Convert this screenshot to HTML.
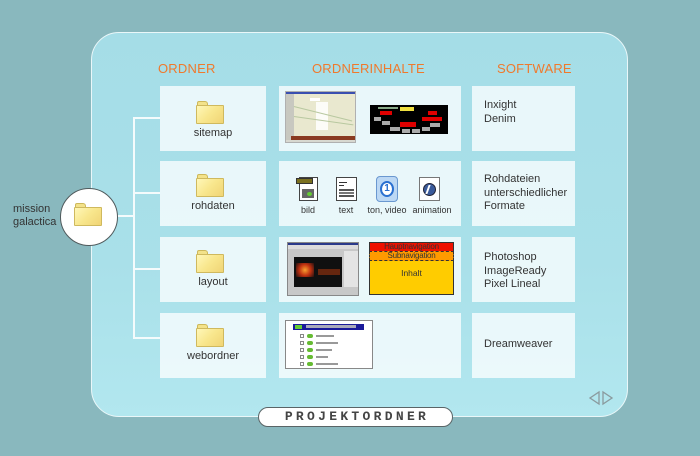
<!DOCTYPE html>
<html><head><meta charset="utf-8">
<style>
*{margin:0;padding:0;box-sizing:border-box}
body{width:700px;height:456px;overflow:hidden;background:#89b8be;font-family:"Liberation Sans",Arial,sans-serif;position:relative}
.a{position:absolute}
.panel{left:91px;top:32px;width:537px;height:385px;border-radius:28px;border:1.5px solid #eaf7f9;background:linear-gradient(180deg,#a5dde7 0%,#a9e0e9 60%,#b2e7ef 100%)}
.box{position:absolute;background:rgba(248,253,254,0.82)}
.hdr{position:absolute;color:#f0792c;font-size:13px;letter-spacing:0.2px}
.lbl{position:absolute;font-size:11px;color:#333;text-align:center}
.sw{position:absolute;font-size:11px;color:#333;line-height:13.5px;left:484px}
.line{position:absolute;background:#f4fbfc}
.folder{position:absolute;width:28px;height:23px}
.folder .tab{position:absolute;left:1px;top:0;width:11px;height:5px;border-radius:2px 3px 0 0;background:#f3e28a;border:1px solid #cdb85a;border-bottom:none}
.folder .body{position:absolute;left:0;top:4px;width:28px;height:19px;background:linear-gradient(135deg,#fff7b8 0%,#f8e68c 50%,#f0d475 100%);border:1px solid #cfb95e;border-radius:1px}
.ico{position:absolute;width:22px;height:25px}
</style></head><body>
<div class="a panel"></div>

<!-- headers -->
<div class="hdr" style="left:158px;top:61px">ORDNER</div>
<div class="hdr" style="left:312px;top:61px">ORDNERINHALTE</div>
<div class="hdr" style="left:497px;top:61px">SOFTWARE</div>

<!-- boxes col1 -->
<div class="box" style="left:160px;top:86px;width:106px;height:65px"></div>
<div class="box" style="left:160px;top:161px;width:106px;height:65px"></div>
<div class="box" style="left:160px;top:237px;width:106px;height:65px"></div>
<div class="box" style="left:160px;top:313px;width:106px;height:65px"></div>
<!-- col2 -->
<div class="box" style="left:279px;top:86px;width:182px;height:65px"></div>
<div class="box" style="left:279px;top:161px;width:182px;height:65px"></div>
<div class="box" style="left:279px;top:237px;width:182px;height:65px"></div>
<div class="box" style="left:279px;top:313px;width:182px;height:65px"></div>
<!-- col3 -->
<div class="box" style="left:472px;top:86px;width:103px;height:65px"></div>
<div class="box" style="left:472px;top:161px;width:103px;height:65px"></div>
<div class="box" style="left:472px;top:237px;width:103px;height:65px"></div>
<div class="box" style="left:472px;top:313px;width:103px;height:65px"></div>

<!-- connectors -->
<div class="line" style="left:133px;top:117px;width:2px;height:222px"></div>
<div class="line" style="left:133px;top:117px;width:27px;height:2px"></div>
<div class="line" style="left:133px;top:192px;width:27px;height:2px"></div>
<div class="line" style="left:133px;top:268px;width:27px;height:2px"></div>
<div class="line" style="left:133px;top:337px;width:27px;height:2px"></div>
<div class="line" style="left:115px;top:215px;width:20px;height:2px"></div>

<!-- circle -->
<div class="a" style="left:60px;top:188px;width:58px;height:58px;border-radius:50%;background:#fff;border:1.5px solid #505a5c"></div>
<div class="folder" style="left:74px;top:203px"><div class="tab"></div><div class="body"></div></div>
<div class="a" style="left:13px;top:203px;font-size:11px;color:#333;line-height:13px">mission<br>galactica</div>

<!-- folders col1 -->
<div class="folder" style="left:196px;top:101px"><div class="tab"></div><div class="body"></div></div>
<div class="lbl" style="left:160px;width:106px;top:127px">sitemap</div>
<div class="folder" style="left:196px;top:174px"><div class="tab"></div><div class="body"></div></div>
<div class="lbl" style="left:160px;width:106px;top:200px">rohdaten</div>
<div class="folder" style="left:196px;top:250px"><div class="tab"></div><div class="body"></div></div>
<div class="lbl" style="left:160px;width:106px;top:276px">layout</div>
<div class="folder" style="left:196px;top:324px"><div class="tab"></div><div class="body"></div></div>
<div class="lbl" style="left:160px;width:106px;top:350px">webordner</div>

<!-- row1 col2: sitemap screenshot -->
<div class="a" style="left:285px;top:91px;width:71px;height:52px;background:#e9e8cf;border:1px solid #b0b0b0;overflow:hidden">
  <div class="a" style="left:0;top:0;width:71px;height:2px;background:#3a4fb0"></div>
  <div class="a" style="left:0;top:2px;width:8px;height:48px;background:#c8c8c0"></div>
  <div class="a" style="left:30px;top:10px;width:12px;height:28px;background:#fff;opacity:.85"></div>
  <div class="a" style="left:24px;top:6px;width:10px;height:3px;background:#fff"></div>
  <div class="a" style="left:5px;top:44px;width:65px;height:4px;background:#8a3a20"></div>
  <div class="a" style="left:0;top:48px;width:71px;height:3px;background:#d8d8d0"></div>
  <div class="a" style="left:8px;top:14px;width:60px;height:1px;background:#b8c8a0;transform:rotate(14deg);transform-origin:0 0"></div>
  <div class="a" style="left:8px;top:24px;width:60px;height:1px;background:#b8c8a0;transform:rotate(8deg);transform-origin:0 0"></div>
</div>
<!-- black sitemap -->
<div class="a" style="left:370px;top:105px;width:78px;height:29px;background:#000;overflow:hidden">
  <div class="a" style="left:30px;top:2px;width:14px;height:4px;background:#f0e040"></div>
  <div class="a" style="left:8px;top:2px;width:20px;height:2px;background:#8a8"></div>
  <div class="a" style="left:10px;top:6px;width:12px;height:4px;background:#e00000"></div>
  <div class="a" style="left:58px;top:6px;width:9px;height:4px;background:#e00000"></div>
  <div class="a" style="left:4px;top:12px;width:7px;height:4px;background:#aaa"></div>
  <div class="a" style="left:12px;top:16px;width:8px;height:4px;background:#aaa"></div>
  <div class="a" style="left:30px;top:17px;width:16px;height:5px;background:#e00000"></div>
  <div class="a" style="left:52px;top:12px;width:20px;height:4px;background:#e00000"></div>
  <div class="a" style="left:60px;top:18px;width:10px;height:4px;background:#aaa"></div>
  <div class="a" style="left:20px;top:22px;width:10px;height:4px;background:#aaa"></div>
  <div class="a" style="left:32px;top:24px;width:8px;height:4px;background:#aaa"></div>
  <div class="a" style="left:42px;top:24px;width:8px;height:4px;background:#aaa"></div>
  <div class="a" style="left:52px;top:22px;width:8px;height:4px;background:#aaa"></div>
</div>

<!-- row2 icons -->
<div class="ico" style="left:296px;top:177px">
  <div class="a" style="left:3px;top:0;width:19px;height:24px;background:#fff;border:1px solid #444"></div>
  <div class="a" style="left:0;top:1px;width:17px;height:6px;background:#7a7020;border:1px solid #333"></div>
  <div class="a" style="left:6px;top:12px;width:12px;height:9px;background:#666"></div>
  <div class="a" style="left:11px;top:15px;width:5px;height:4px;border-radius:50%;background:#6c3"></div>
</div>
<div class="lbl" style="left:293px;width:30px;top:205px;font-size:9px">bild</div>
<div class="ico" style="left:336px;top:177px">
  <div class="a" style="left:0;top:0;width:21px;height:24px;background:#fff;border:1px solid #444"></div>
  <div class="a" style="left:3px;top:5px;width:8px;height:1px;background:#333"></div>
  <div class="a" style="left:3px;top:8px;width:5px;height:1px;background:#333"></div>
  <div class="a" style="left:3px;top:12px;width:15px;height:2px;background:#555"></div>
  <div class="a" style="left:3px;top:15px;width:15px;height:2px;background:#777"></div>
  <div class="a" style="left:3px;top:18px;width:15px;height:2px;background:#555"></div>
</div>
<div class="lbl" style="left:331px;width:30px;top:205px;font-size:9px">text</div>
<div class="ico" style="left:376px;top:176px">
  <div class="a" style="left:0;top:0;width:22px;height:26px;border-radius:4px;background:#bcd8f4;border:1px solid #6a98d0"></div>
  <div class="a" style="left:4px;top:5px;width:14px;height:16px;border-radius:50%;border:2.5px solid #2a70d0;background:#fff"></div>
  <div class="a" style="left:4px;top:7px;width:14px;text-align:center;font-size:10px;font-weight:bold;color:#2a70d0;line-height:12px">1</div>
</div>
<div class="lbl" style="left:364px;width:46px;top:205px;font-size:9px">ton, video</div>
<div class="ico" style="left:419px;top:177px">
  <div class="a" style="left:0;top:0;width:21px;height:24px;background:#fff;border:1px solid #777"></div>
  <div class="a" style="left:4px;top:6px;width:13px;height:13px;border-radius:50%;background:#3a5a9a;border:1px solid #223"></div>
  <div class="a" style="left:8px;top:8px;width:5px;height:9px;border-left:2px solid #fff;transform:skewX(-20deg)"></div>
</div>
<div class="lbl" style="left:410px;width:44px;top:205px;font-size:9px">animation</div>

<!-- row3: photoshop screenshot -->
<div class="a" style="left:287px;top:242px;width:72px;height:54px;background:#c8c8c8;border:1px solid #888;overflow:hidden">
  <div class="a" style="left:0;top:0;width:72px;height:2px;background:#2a3a8a"></div>
  <div class="a" style="left:0;top:2px;width:72px;height:4px;background:#dcdcdc"></div>
  <div class="a" style="left:6px;top:14px;width:48px;height:30px;background:#101010"></div>
  <div class="a" style="left:8px;top:20px;width:18px;height:14px;background:radial-gradient(circle,#f8a030 0%,#c03010 50%,#201010 100%)"></div>
  <div class="a" style="left:30px;top:26px;width:22px;height:6px;background:#8a3010;opacity:.7"></div>
  <div class="a" style="left:56px;top:8px;width:15px;height:36px;background:#e4e4e4"></div>
</div>
<!-- layout diagram -->
<div class="a" style="left:369px;top:242px;width:85px;height:53px;background:#ffcc00;border:1px solid #333"></div>
<div class="a" style="left:369px;top:242px;width:85px;height:10px;background:#ee1100;border:1px solid #333;font-size:8px;letter-spacing:-0.2px;color:#333;text-align:center;line-height:8px;overflow:hidden">Hauptnavigation</div>
<div class="a" style="left:369px;top:251px;width:85px;height:10px;background:#ff9a00;border:1px dashed #333;font-size:8px;letter-spacing:-0.2px;color:#333;text-align:center;line-height:8px;overflow:hidden">Subnavigation</div>
<div class="a" style="left:369px;top:268px;width:85px;font-size:8.5px;color:#333;text-align:center">Inhalt</div>

<!-- row4: tree screenshot -->
<div class="a" style="left:285px;top:320px;width:88px;height:49px;background:#fff;border:1px solid #888;overflow:hidden">
  <div class="a" style="left:7px;top:3px;width:71px;height:6px;background:#1a1a9a"></div>
  <div class="a" style="left:9px;top:4px;width:7px;height:4px;background:#6c3"></div>
  <div class="a" style="left:20px;top:4px;width:50px;height:3px;background:#aab"></div>
  <div class="a" style="left:14px;top:13px;width:4px;height:4px;border:1px solid #888"></div><div class="a" style="left:21px;top:13px;width:6px;height:4px;background:#6b3;border-radius:2px"></div><div class="a" style="left:30px;top:14px;width:18px;height:2px;background:#999"></div>
  <div class="a" style="left:14px;top:20px;width:4px;height:4px;border:1px solid #888"></div><div class="a" style="left:21px;top:20px;width:6px;height:4px;background:#6b3;border-radius:2px"></div><div class="a" style="left:30px;top:21px;width:22px;height:2px;background:#999"></div>
  <div class="a" style="left:14px;top:27px;width:4px;height:4px;border:1px solid #888"></div><div class="a" style="left:21px;top:27px;width:6px;height:4px;background:#6b3;border-radius:2px"></div><div class="a" style="left:30px;top:28px;width:16px;height:2px;background:#999"></div>
  <div class="a" style="left:14px;top:34px;width:4px;height:4px;border:1px solid #888"></div><div class="a" style="left:21px;top:34px;width:6px;height:4px;background:#6b3;border-radius:2px"></div><div class="a" style="left:30px;top:35px;width:12px;height:2px;background:#999"></div>
  <div class="a" style="left:14px;top:41px;width:4px;height:4px;border:1px solid #888"></div><div class="a" style="left:21px;top:41px;width:6px;height:4px;background:#6b3;border-radius:2px"></div><div class="a" style="left:30px;top:42px;width:22px;height:2px;background:#999"></div>
</div>

<!-- software -->
<div class="sw" style="top:99px">Inxight<br>Denim</div>
<div class="sw" style="top:173px">Rohdateien<br>unterschiedlicher<br>Formate</div>
<div class="sw" style="top:251px">Photoshop<br>ImageReady<br>Pixel Lineal</div>
<div class="sw" style="top:338px">Dreamweaver</div>

<!-- nav arrows -->
<svg class="a" style="left:588px;top:390px" width="28" height="16" viewBox="0 0 28 16">
  <polygon points="11,2 11,14 2,8" fill="none" stroke="#8a9a9e" stroke-width="1.3"/>
  <polygon points="15,2 15,14 24,8" fill="none" stroke="#8a9a9e" stroke-width="1.3"/>
</svg>

<!-- pill -->
<div class="a" style="left:258px;top:407px;width:195px;height:20px;border-radius:10px;background:#fff;border:1.5px solid #5a6466;font-family:'Liberation Mono',monospace;font-size:13px;font-weight:bold;color:#444;letter-spacing:3.3px;text-align:center;line-height:17px;padding-left:3px">PROJEKTORDNER</div>
</body></html>
